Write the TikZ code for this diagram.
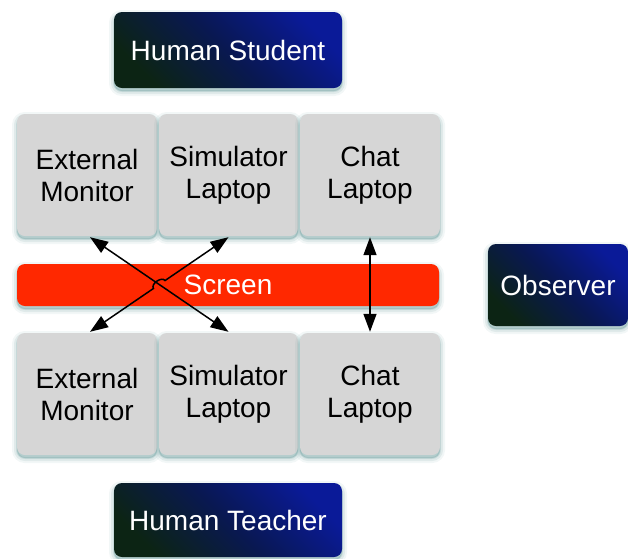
\documentclass[tikz,border=0pt]{standalone}
\usepackage{fontspec}
\setmainfont{Liberation Sans}
\usetikzlibrary{calc,arrows.meta,shadows}
\definecolor{navyA}{HTML}{0A1A98}
\definecolor{greenA}{HTML}{0C2414}
\definecolor{midA}{HTML}{091852}
\definecolor{grayBox}{HTML}{D6D6D6}
\definecolor{redScr}{HTML}{FF2800}
\definecolor{shadowC}{HTML}{5E9494}
\tikzset{
  x=1pt, y=1pt,
  softshadow/.style={
    general shadow={fill=shadowC, draw=shadowC, line width=10pt, opacity=0.08, shadow yshift=-3pt},
    general shadow={fill=shadowC, draw=shadowC, line width=6pt, opacity=0.12, shadow yshift=-3pt},
    general shadow={fill=shadowC, draw=shadowC, line width=2pt, opacity=0.2, shadow yshift=-3pt}},
  darkbox/.style={rounded corners=8pt, softshadow, top color=navyA, bottom color=greenA, middle color=midA, shading angle=-45,
    text=white, font=\fontsize{28}{32}\selectfont, align=center, inner sep=0pt},
  graybox/.style={rounded corners=8pt, softshadow, fill=grayBox, text=black, minimum width=140, minimum height=122,
    font=\fontsize{28}{32}\selectfont, align=center, inner sep=0pt},
  screenbox/.style={rounded corners=8pt, softshadow, fill=redScr, text=white, minimum width=422, minimum height=42,
    font=\fontsize{28}{32}\selectfont, inner sep=0pt},
  link/.style={line width=1.5pt, {Triangle[length=18pt,width=13pt]}-{Triangle[length=18pt,width=13pt]}}
}
\begin{document}
\begin{tikzpicture}
\useasboundingbox (0,0) rectangle (628,-558);
\node[darkbox, minimum width=228, minimum height=76] (hs) at (228,-50) {Human Student};
\node[graybox] (tem) at (87,-175) {External\\Monitor};
\node[graybox, minimum width=139] (tsl) at (228.5,-175) {Simulator\\Laptop};
\node[graybox] (tcl) at (370,-175) {Chat\\Laptop};
\node[screenbox] (scr) at (228,-285) {Screen};
\node[darkbox, minimum width=140, minimum height=82] (obs) at (558,-285) {Observer};
\node[graybox] (bem) at (87,-394) {External\\Monitor};
\node[graybox, minimum width=139] (bsl) at (228.5,-394) {Simulator\\Laptop};
\node[graybox] (bcl) at (370,-394) {Chat\\Laptop};
\node[darkbox, minimum width=228, minimum height=74] (ht) at (228,-520) {Human Teacher};
% arrows
\coordinate (a1) at ($(tem.south)+(3,-1)$);
\coordinate (a2) at ($(bsl.north)+(0,1)$);
\draw[link] (a1) -- (a2);
\coordinate (b1) at ($(tsl.south)+(0,-1)$);
\coordinate (b2) at ($(bem.north)+(3,1)$);
\coordinate (bm) at ($(b1)!0.5!(b2)$);
\coordinate (h1) at ($(bm)!7pt!(b1)$);
\coordinate (h2) at ($(bm)!7pt!(b2)$);
\draw[link] (b1) -- (h1) to[bend right=90] (h2) -- (b2);
\coordinate (c1) at ($(tcl.south)+(0,-1)$);
\coordinate (c2) at ($(bcl.north)+(0,1)$);
\draw[link] (c1) -- (c2);
\end{tikzpicture}
\end{document}
